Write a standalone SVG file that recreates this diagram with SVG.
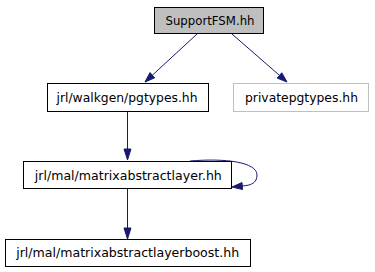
<svg xmlns="http://www.w3.org/2000/svg" width="375" height="272" viewBox="0 0 375 272">
  <style>
    .box { fill: #ffffff; stroke: #000000; stroke-width: 1; }
    .root { fill: #bfbfbf; }
    .ext { stroke: #bfbfbf; }
    .lbl { font-family: "DejaVu Sans", sans-serif; font-size: 12px; text-anchor: middle; fill: #000000; }
    .edge { fill: none; stroke: #191970; stroke-width: 1; }
    .head { fill: #191970; stroke: #191970; stroke-width: 1; }
  </style>
  <rect width="375" height="272" fill="#ffffff"/>

  <g id="connectors">
    <!-- SupportFSM.hh -> jrl/walkgen/pgtypes.hh -->
    <path class="edge" d="M 197,34 L 152.4,75.2"/>
    <polygon class="head" points="154.7,77.8 145,82 150,72.6"/>
    <!-- SupportFSM.hh -> privatepgtypes.hh -->
    <path class="edge" d="M 232,34 L 279.5,75.4"/>
    <polygon class="head" points="277.2,78.1 287,82 281.8,72.8"/>
    <!-- jrl/walkgen/pgtypes.hh -> jrl/mal/matrixabstractlayer.hh -->
    <path class="edge" d="M 127.5,112 L 127.5,149"/>
    <polygon class="head" points="124,149 127.5,160 131,149"/>
    <!-- self reference on jrl/mal/matrixabstractlayer.hh -->
    <path class="edge" d="M 190,161 C 225,158 257,162 257,175 C 257,183 251,185.5 242,186"/>
    <polygon class="head" points="242,182.5 232,187 242.5,189.5"/>
    <!-- jrl/mal/matrixabstractlayer.hh -> jrl/mal/matrixabstractlayerboost.hh -->
    <path class="edge" d="M 127.5,189 L 127.5,228"/>
    <polygon class="head" points="124,228 127.5,239 131,228"/>
  </g>

  <g id="node-supportfsm">
    <rect class="box root" x="154.5" y="7.5" width="109" height="26"/>
    <text class="lbl" x="210" y="25" textLength="89" lengthAdjust="spacingAndGlyphs">SupportFSM.hh</text>
  </g>
  <g id="node-pgtypes">
    <rect class="box" x="47.5" y="83.5" width="161" height="28"/>
    <text class="lbl" x="127" y="102" textLength="141" lengthAdjust="spacingAndGlyphs">jrl/walkgen/pgtypes.hh</text>
  </g>
  <g id="node-privatepgtypes">
    <rect class="box ext" x="233.5" y="83.5" width="135" height="28"/>
    <text class="lbl" x="301.5" y="102" textLength="113" lengthAdjust="spacingAndGlyphs">privatepgtypes.hh</text>
  </g>
  <g id="node-matrixabstractlayer">
    <rect class="box" x="23.5" y="161.5" width="208" height="27"/>
    <text class="lbl" x="128.3" y="179.5" textLength="187" lengthAdjust="spacingAndGlyphs">jrl/mal/matrixabstractlayer.hh</text>
  </g>
  <g id="node-matrixabstractlayerboost">
    <rect class="box" x="5.5" y="239.5" width="245" height="27"/>
    <text class="lbl" x="127.7" y="257" textLength="223" lengthAdjust="spacingAndGlyphs">jrl/mal/matrixabstractlayerboost.hh</text>
  </g>
</svg>
